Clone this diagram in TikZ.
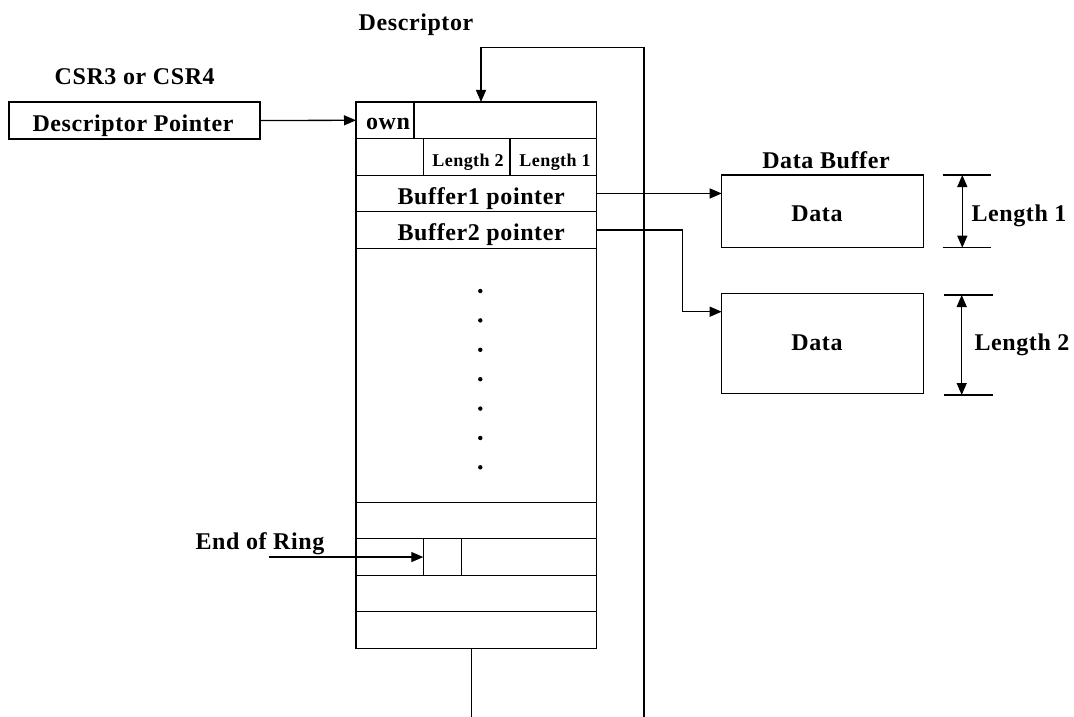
\documentclass[tikz,border=0pt]{standalone}
\usepackage{fontspec}
\setmainfont{Liberation Serif}
\newfontfamily\lblfont{Liberation Serif}[LetterSpace=2.5]
\usetikzlibrary{arrows.meta}
\begin{document}
\begin{tikzpicture}[x=1pt,y=-1pt,line width=1.3pt,
  cell/.style={draw,inner sep=0pt,outer sep=0pt},
  big/.style={font=\lblfont\bfseries\fontsize{24}{28}\selectfont,inner sep=0pt,anchor=base},
  small/.style={font=\lblfont\bfseries\fontsize{18}{22}\selectfont,inner sep=0pt,anchor=base},
  arr/.style={-{Triangle[length=12pt,width=10pt]}},
  dim/.style={{Triangle[length=12pt,width=10pt]}-{Triangle[length=12pt,width=10pt]}},
  dotmark/.style={circle,fill,inner sep=0pt,minimum size=4.4pt}]
\useasboundingbox (0,0) rectangle (1074,717);
% descriptor pointer register
\node[cell,minimum width=251pt,minimum height=37pt] (dp) at (134.5,120.5) {};
\node[big] (csrlbl) at (134.7,84.3) {CSR3 or CSR4};
\node[big] (dplbl) at (133,131.7) {Descriptor Pointer};
\node[big] (desclbl) at (416,30.7) {Descriptor};
% descriptor rows
\node[cell,minimum width=240.7pt,minimum height=36.6pt] (r1) at (476.35,120.3) {};
\node[cell,minimum width=240.7pt,minimum height=36.6pt] (r2) at (476.35,156.9) {};
\node[cell,minimum width=240.7pt,minimum height=36.5pt] (r3) at (476.35,193.45) {};
\node[cell,minimum width=240.7pt,minimum height=36.5pt] (r4) at (476.35,230.0) {};
\node[cell,minimum width=240.7pt,minimum height=254pt] (mid) at (476.35,375.3) {};
\node[cell,minimum width=240.7pt,minimum height=36.5pt] (r6) at (476.35,520.55) {};
\node[cell,minimum width=240.7pt,minimum height=36.5pt] (r7) at (476.35,557.05) {};
\node[cell,minimum width=240.7pt,minimum height=36.5pt] (r8) at (476.35,593.55) {};
\node[cell,minimum width=240.7pt,minimum height=36.5pt] (r9) at (476.35,630.05) {};
% sub cells
\node[cell,minimum width=58pt,minimum height=36.6pt] (own) at (385,120.3) {};
\node[cell,minimum width=86.7pt,minimum height=36.6pt] (len2c) at (466.65,156.9) {};
\node[cell,minimum width=86.7pt,minimum height=36.6pt] (len1c) at (553.35,156.9) {};
\node[cell,minimum width=38.4pt,minimum height=36.5pt] (eor) at (442.5,557.05) {};
% row texts
\node[big] (ownlbl) at (388,129) {own};
\node[small] (len2lbl) at (468,166) {Length 2};
\node[small] (len1lbl) at (555,166) {Length 1};
\node[big] (b1lbl) at (481.2,204.3) {Buffer1 pointer};
\node[big] (b2lbl) at (481.2,240.7) {Buffer2 pointer};
\node[big] (eorlbl) at (260,549) {End of Ring};
% dots
\foreach \i/\yy in {1/291,2/320.4,3/349.8,4/379.2,5/408.6,6/438,7/467.3}
  \node[dotmark] (dot\i) at (480.3,\yy) {};
% data buffers
\node[cell,minimum width=201.6pt,minimum height=72.7pt] (data1) at (822.5,211.35) {};
\node[cell,minimum width=201.6pt,minimum height=100pt] (data2) at (822.5,343.3) {};
\node[big] (dblbl) at (826,168.3) {Data Buffer};
\node[big] (d1lbl) at (817,221.7) {Data};
\node[big] (d2lbl) at (817,350) {Data};
\node[big] (l1lbl) at (1019,221.7) {Length 1};
\node[big] (l2lbl) at (1022,350) {Length 2};
% dimension marks
\coordinate (t1a) at (942.7,175);   \coordinate (t1b) at (990.7,175);
\coordinate (t2a) at (942.7,247.7); \coordinate (t2b) at (990.7,247.7);
\coordinate (t3a) at (944,295);     \coordinate (t3b) at (992.7,295);
\coordinate (t4a) at (944,395);     \coordinate (t4b) at (992.7,395);
\draw (t1a) -- (t1b);
\draw (t2a) -- (t2b);
\draw (t3a) -- (t3b);
\draw (t4a) -- (t4b);
\draw[dim] (962.3,175) -- (962.3,247.7);
\draw[dim] (961.7,295) -- (961.7,395);
% connectors
\draw[arr] (dp.east) -- (own.west);
\coordinate (loopbot) at (644,717);
\coordinate (loopL) at (481,47.3);
\draw[arr] (loopbot) |- (loopL) -- (loopL |- r1.north);
\coordinate (tail) at (471.7,717);
\draw (tail |- r9.south) -- (tail);
\draw[arr] (r3.east) -- (r3.east -| data1.west);
\coordinate (bend) at (682.7,270);
\coordinate (d2in) at (721.7,311.7);
\draw[arr] (r4.east) -| (bend) |- (d2in);
\coordinate (eorstart) at (269,557.05);
\draw[arr] (eorstart) -- (eor.west);
\end{tikzpicture}
\end{document}
